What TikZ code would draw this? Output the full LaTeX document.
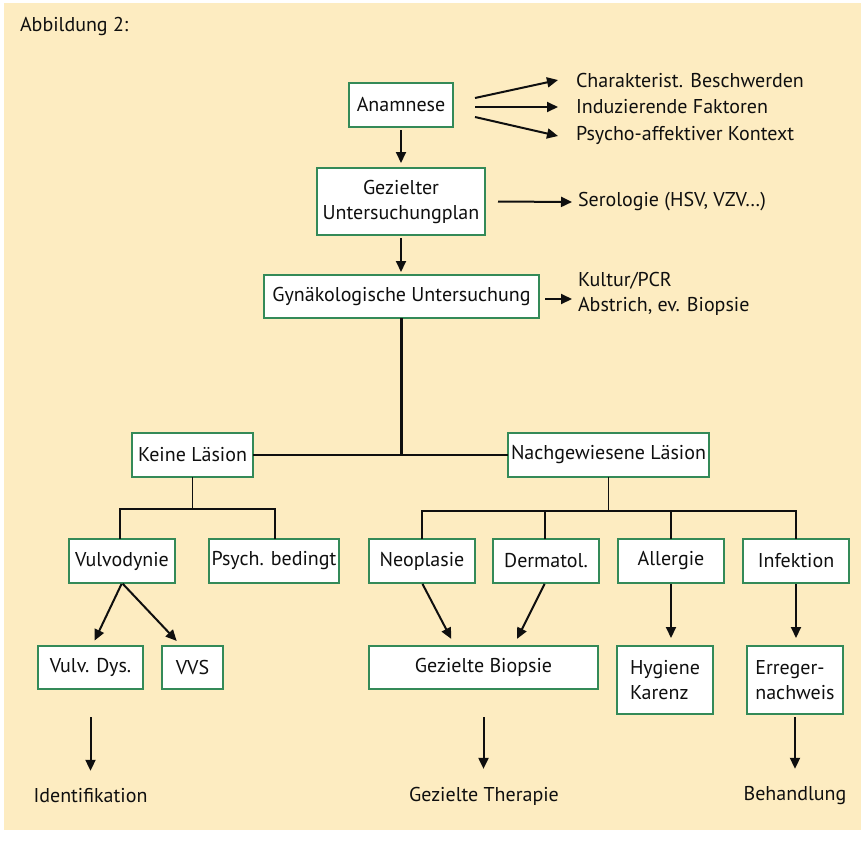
\documentclass[tikz,border=0pt]{standalone}
\usepackage{fontspec}
\setmainfont{PT Sans}
\usepackage{tikz}
\usetikzlibrary{arrows.meta}
\definecolor{paper}{RGB}{253,236,193}
\definecolor{boxgreen}{RGB}{52,138,88}
\definecolor{ink}{RGB}{15,15,15}

\begin{document}
\begin{tikzpicture}[x=1pt,y=-1pt,
  every node/.style={font=\fontsize{20}{25}\selectfont, text=ink, outer sep=0pt},
  box/.style={draw=boxgreen, line width=1.8pt, fill=white, inner sep=0pt, minimum height=44pt},
  txt/.style={inner sep=0pt},
  arr/.style={draw=ink, line width=2pt, -{Triangle[length=11pt,width=10pt]}},
  tree/.style={draw=ink, line width=1.2pt},
  trunk/.style={draw=ink, line width=2.4pt}]
\useasboundingbox (0,0) rectangle (861,863);
\fill[paper] (4,3) rectangle (861,830);

\node[txt, anchor=west] (titel) at (20,26) {Abbildung 2:};

\node[box, minimum width=104pt] (anam) at (401,105) {Anamnese};
\node[box, minimum width=168pt, minimum height=67pt, align=center] (plan) at (401,201.5) {Gezielter\\Untersuchungplan};
\node[box, minimum width=275pt, minimum height=43pt] (gyn) at (401.5,296.5) {Gynäkologische Untersuchung};

\node[txt, anchor=west] (c1) at (576,80) {Charakterist. Beschwerden};
\node[txt, anchor=west] (c2) at (576,107) {Induzierende Faktoren};
\node[txt, anchor=west] (c3) at (576,135) {Psycho-affektiver Kontext};
\node[txt, anchor=west] (sero) at (578,202) {Serologie (HSV, VZV\dots)};
\node[txt, anchor=west, align=left] (kult) at (578,293.5) {Kultur/PCR\\Abstrich, ev. Biopsie};

\node[box, minimum width=121pt] (keine) at (192.5,455) {Keine Läsion};
\node[box, minimum width=201pt] (nach) at (608.5,455) {Nachgewiesene Läsion};

\node[box, minimum width=106pt] (vulvo) at (122,561) {Vulvodynie};
\node[box, minimum width=130pt] (psych) at (274,561) {Psych. bedingt};
\node[box, minimum width=106pt] (neo) at (422,561) {Neoplasie};
\node[box, minimum width=106pt] (derm) at (546,561) {Dermatol.};
\node[box, minimum width=106pt] (allerg) at (671,561) {Allergie};
\node[box, minimum width=106pt] (infekt) at (796,561) {Infektion};

\node[box, minimum width=105pt, minimum height=43pt] (dys) at (90.5,667.5) {Vulv. Dys.};
\node[box, minimum width=61pt, minimum height=43pt] (vvs) at (192.5,667.5) {VVS};
\node[box, minimum width=229pt, minimum height=43pt] (biop) at (483.5,667.5) {Gezielte Biopsie};
\node[box, minimum width=96pt, minimum height=68pt, align=left] (hyg) at (665,680) {Hygiene\\Karenz};
\node[box, minimum width=96pt, minimum height=68pt, align=left] (erreg) at (795,680) {Erreger-\\nachweis};

\node[txt] (ident) at (90.5,796) {Identifikation};
\node[txt] (ther) at (484,796) {Gezielte Therapie};
\node[txt] (behand) at (795,796) {Behandlung};

\draw[arr, shorten <=3pt, shorten >=5pt] (anam) -- (plan);
\draw[arr, shorten <=3pt, shorten >=3pt] (plan) -- (plan |- gyn.north);
\draw[arr] ([xshift=22pt,yshift=7pt]anam.east) -- ([xshift=-18pt]c1.west);
\draw[arr] ([xshift=22pt,yshift=-2pt]anam.east) -- ([xshift=-18pt]c2.west);
\draw[arr] ([xshift=22pt,yshift=-12pt]anam.east) -- ([xshift=-18pt,yshift=-1pt]c3.west);
\draw[arr] ([xshift=13pt]plan.east) -- ([xshift=-6pt]sero.west);
\draw[arr] ([xshift=6pt,yshift=-2.5pt]gyn.east) -- ([xshift=-6pt,yshift=-5.5pt]kult.west);

\draw[trunk] (gyn.south) -- (gyn.south |- keine.east);
\draw[trunk] (keine.east) -- (nach.west);

\draw[tree] (keine.south) -- ++(0,32);
\draw[tree] ([xshift=-2pt]vulvo.north) |- ([yshift=-32pt]keine.south) -| ([xshift=1pt]psych.north);
\draw[tree] (nach.south) -- ++(0,34);
\draw[tree] (neo.north) |- ([yshift=-34pt]nach.south) -| (infekt.north);
\draw[tree] ([xshift=-1pt]derm.north) -- ++(0,-29);
\draw[tree] (allerg.north) -- ++(0,-29);

\draw[arr, shorten <=1pt, shorten >=6pt] (vulvo.south) -- ([xshift=1.5pt]dys.north);
\draw[arr, shorten <=1pt, shorten >=7pt] (vulvo.south) -- ([xshift=-11pt]vvs.north);
\draw[arr, shorten <=1pt, shorten >=8pt] (neo.south) -- ([xshift=-28.5pt]biop.north);
\draw[arr, shorten <=1pt, shorten >=8pt] ([xshift=-1pt]derm.south) -- ([xshift=30pt]biop.north);
\draw[arr, shorten <=1pt, shorten >=8pt] (allerg.south) -- (allerg.south |- hyg.north);
\draw[arr, shorten <=1pt, shorten >=8pt] (infekt.south) -- (infekt.south |- erreg.north);

\draw[arr, shorten <=28pt, shorten >=18pt] (dys.south) -- (dys.south |- ident.north);
\draw[arr, shorten <=28pt, shorten >=18pt] (biop.south) -- (biop.south |- ther.north);
\draw[arr, shorten <=3pt, shorten >=18pt] (erreg.south) -- (erreg.south |- behand.north);
\end{tikzpicture}
\end{document}
